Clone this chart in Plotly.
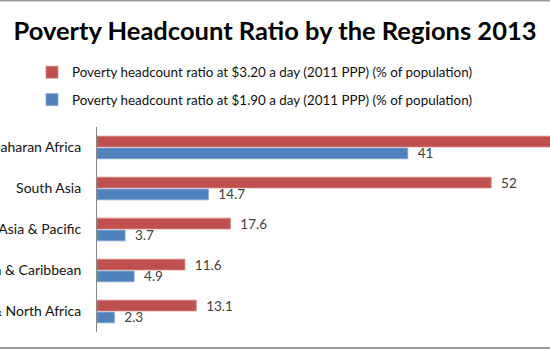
import plotly.graph_objects as go

regions = ["Sub-Saharan Africa", "South Asia", "East Asia & Pacific",
           "Latin America & Caribbean", "Middle East & North Africa"]
pov_320 = [66.3, 52, 17.6, 11.6, 13.1]
pov_190 = [41, 14.7, 3.7, 4.9, 2.3]
name_320 = "Poverty headcount ratio at $3.20 a day (2011 PPP) (% of population)"
name_190 = "Poverty headcount ratio at $1.90 a day (2011 PPP) (% of population)"
title = "Poverty Headcount Ratio by the Regions 2013"

W, H = 550, 350
ML, MR, MT, MB = 97, 0, 127, 18
px_per_unit = 7.58
xmax = (W - ML - MR) / px_per_unit

label_font = dict(family="Lato", size=13.5, color="#404040")

fig = go.Figure()
fig.add_trace(go.Bar(
    y=regions, x=pov_320, orientation="h", name=name_320,
    marker=dict(color="#C0504D", line=dict(color="#D68381", width=0.8)),
    texttemplate="\u00a0\u00a0%{x}", textposition="outside",
    textfont=label_font, constraintext="none",
    legendgroup="a", cliponaxis=True,
))
fig.add_trace(go.Bar(
    y=regions, x=pov_190, orientation="h", name=name_190,
    marker=dict(color="#4F81BD", line=dict(color="#86A8D4", width=0.8)),
    texttemplate="\u00a0\u00a0%{x}", textposition="outside",
    textfont=label_font, constraintext="none",
    legendgroup="b", cliponaxis=True,
))

plot_h = H - MT - MB
fig.update_layout(
    width=W, height=H,
    margin=dict(l=ML, r=MR, t=MT, b=MB, autoexpand=False),
    paper_bgcolor="white", plot_bgcolor="white",
    barmode="group", bargap=0.42, bargroupgap=0.1,
    font=dict(family="Lato", color="#000000"),
    title=dict(text="<b>" + title + "</b>", x=0.5, xref="container", xanchor="center",
               y=1 - 31 / H, yref="container", yanchor="middle",
               font=dict(family="Lato", size=25.5, color="#000000")),
    legend=dict(x=(32 - ML) / (W - ML - MR), xanchor="left",
                y=(H - MB - 57) / plot_h, yanchor="top",
                font=dict(family="Lato", size=13.4, color="#111111"),
                tracegroupgap=7, bgcolor="rgba(0,0,0,0)"),
    showlegend=True,
    xaxis=dict(range=[0, xmax], showticklabels=False, showgrid=False,
               zeroline=False, showline=False, ticks=""),
    yaxis=dict(autorange="reversed", showgrid=False, showline=True,
               linecolor="#868686", linewidth=1, ticks="",
               ticklabelstandoff=12,
               tickfont=dict(family="Lato", size=14, color="#111111")),
    shapes=[
        dict(type="line", xref="paper", yref="paper",
             x0=-ML / (W - ML), x1=1, y0=(H - MB - 0.5) / plot_h, y1=(H - MB - 0.5) / plot_h,
             line=dict(color="#9a9a9a", width=2)),
        dict(type="line", xref="paper", yref="paper",
             x0=-ML / (W - ML), x1=1, y0=(-MB + 2) / plot_h, y1=(-MB + 2) / plot_h,
             line=dict(color="#9a9a9a", width=2)),
    ],
)

fig.write_html("out.html")
